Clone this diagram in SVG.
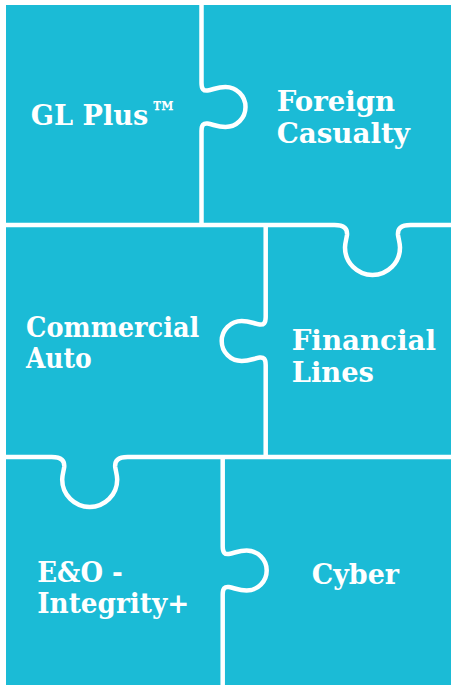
<svg xmlns="http://www.w3.org/2000/svg" width="451" height="685" viewBox="0 0 451 685">
<style>
.bg{fill:#1BBBD6}
.lbl{font-family:"DejaVu Serif","Liberation Serif",serif;font-weight:bold;font-size:27px;fill:#ffffff}
.div{fill:none;stroke:#ffffff;stroke-width:4.5;stroke-linejoin:round}
</style>
<rect x="0" y="0" width="451" height="685" fill="#ffffff"/>
<rect class="bg" x="6" y="5" width="445" height="680"/>
<g id="piece-gl-plus">
<text class="lbl" x="30.7" y="125"><tspan textLength="117.6" lengthAdjust="spacingAndGlyphs">GL Plus</tspan><tspan dx="2" font-size="33" textLength="27" lengthAdjust="spacingAndGlyphs">™</tspan></text>
</g>
<g id="piece-foreign-casualty">
<text class="lbl" x="276.7" y="110.7" textLength="118.3" lengthAdjust="spacingAndGlyphs">Foreign</text>
<text class="lbl" x="276.7" y="143.3" textLength="133.3" lengthAdjust="spacingAndGlyphs">Casualty</text>
</g>
<g id="piece-commercial-auto">
<text class="lbl" x="26" y="336.5" textLength="173.3" lengthAdjust="spacingAndGlyphs">Commercial</text>
<text class="lbl" x="26" y="367.5" textLength="65.7" lengthAdjust="spacingAndGlyphs">Auto</text>
</g>
<g id="piece-financial-lines">
<text class="lbl" x="291.7" y="350" textLength="144.3" lengthAdjust="spacingAndGlyphs">Financial</text>
<text class="lbl" x="291.7" y="381.7" textLength="82.3" lengthAdjust="spacingAndGlyphs">Lines</text>
</g>
<g id="piece-eo-integrity">
<text class="lbl" x="37.3" y="582.3" textLength="85.4" lengthAdjust="spacingAndGlyphs">E&amp;O -</text>
<text class="lbl" x="37.3" y="613.3" textLength="152" lengthAdjust="spacingAndGlyphs">Integrity+</text>
</g>
<g id="piece-cyber">
<text class="lbl" x="311.7" y="584.3" textLength="87.3" lengthAdjust="spacingAndGlyphs">Cyber</text>
</g>
<g id="connectors">
<path class="div" d="M 201.5 3 V 83 C 201.5 89, 203.5 91, 207.5 90.5 C 213.5 89.5, 217.5 87, 225.5 87 A 20 20 0 0 1 225.5 127 C 217.5 127, 213.5 124.5, 207.5 123.5 C 203.5 123, 201.5 125, 201.5 131 V 225"/>
<path class="div" d="M 4 225 H 334.5 C 344.5 225, 347.5 229, 347 235 C 346.5 239, 345 243, 345 247.5 A 27.5 27.5 0 0 0 400 247.5 C 400 243, 398.5 239, 398 235 C 397.5 229, 400.5 225, 410.5 225 H 451"/>
<path class="div" d="M 265.7 225 V 317 C 265.7 323, 263.7 325, 259.7 324.5 C 253.7 323.5, 249.7 321, 241.7 321 A 20 20 0 0 0 241.7 361 C 249.7 361, 253.7 358.5, 259.7 357.5 C 263.7 357, 265.7 359, 265.7 365 V 457"/>
<path class="div" d="M 4 457 H 51.7 C 61.7 457, 64.7 461, 64.2 467 C 63.7 471, 62.2 475, 62.2 479.5 A 27.5 27.5 0 0 0 117.2 479.5 C 117.2 475, 115.7 471, 115.2 467 C 114.7 461, 117.7 457, 127.7 457 H 451"/>
<path class="div" d="M 222.7 457 V 546.5 C 222.7 552.5, 224.7 554.5, 228.7 554 C 234.7 553, 238.7 550.5, 246.7 550.5 A 20 20 0 0 1 246.7 590.5 C 238.7 590.5, 234.7 588, 228.7 587 C 224.7 586.5, 222.7 588.5, 222.7 594.5 V 687"/>
</g>
</svg>
